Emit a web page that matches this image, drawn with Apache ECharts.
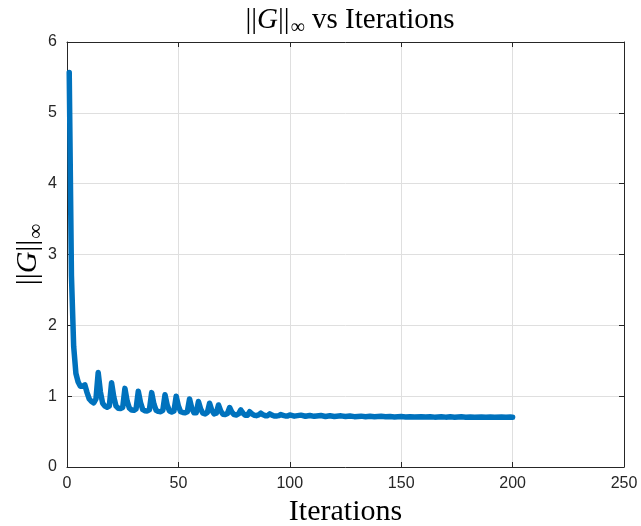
<!DOCTYPE html>
<html>
<head>
<meta charset="utf-8">
<script src="https://cdn.jsdelivr.net/npm/echarts@6/dist/echarts.min.js"></script>
<style>
  html, body { margin: 0; padding: 0; background: #ffffff; }
  #chart { width: 641px; height: 526px; }
</style>
</head>
<body>
<div id="chart"></div>
<script>
// Infinity norm of G per iteration
const iterations = [
  1, 2, 3, 4, 5, 6, 7, 8, 9, 10, 11, 12, 13, 14, 15, 16, 17, 18, 19, 20,
  21, 22, 23, 24, 25, 26, 27, 28, 29, 30, 31, 32, 33, 34, 35, 36, 37, 38, 39, 40,
  41, 42, 43, 44, 45, 46, 47, 48, 49, 50, 51, 52, 53, 54, 55, 56, 57, 58, 59, 60,
  61, 62, 63, 64, 65, 66, 67, 68, 69, 70, 71, 72, 73, 74, 75, 76, 77, 78, 79, 80,
  81, 82, 83, 84, 85, 86, 87, 88, 89, 90, 91, 92, 93, 94, 95, 96, 97, 98, 99, 100,
  102, 105, 107, 109, 111, 114, 116, 118, 120, 123, 125, 127, 129, 132, 134, 136, 138,
  141, 143, 145, 147, 150, 152, 154, 156, 159, 161, 163, 165, 168, 170, 172, 174,
  177, 179, 181, 183, 186, 188, 190, 192, 195, 197, 199, 200
];
const gInfNorm = [
  5.57, 2.7, 1.7, 1.32, 1.2, 1.14, 1.14, 1.16, 1.05, 0.96, 0.925, 0.905, 0.96, 1.335, 1.06, 0.9, 0.86, 0.845, 0.86, 1.19,
  0.99, 0.86, 0.83, 0.825, 0.84, 1.11, 0.93, 0.83, 0.805, 0.8, 0.82, 1.07, 0.91, 0.81, 0.795, 0.79, 0.81, 1.05, 0.89, 0.8,
  0.785, 0.78, 0.8, 1.02, 0.87, 0.79, 0.775, 0.79, 1.0, 0.86, 0.78, 0.77, 0.765, 0.78, 0.96, 0.83, 0.765, 0.765, 0.925, 0.82,
  0.76, 0.75, 0.77, 0.9, 0.8, 0.75, 0.76, 0.875, 0.79, 0.745, 0.74, 0.755, 0.84, 0.775, 0.74, 0.735, 0.75, 0.805, 0.76, 0.73,
  0.73, 0.78, 0.75, 0.73, 0.725, 0.735, 0.76, 0.738, 0.725, 0.725, 0.75, 0.732, 0.72, 0.72, 0.725, 0.74, 0.73, 0.72, 0.72, 0.735,
  0.718, 0.732, 0.716, 0.728, 0.715, 0.726, 0.714, 0.724, 0.713, 0.722, 0.712, 0.72, 0.711, 0.718, 0.71, 0.716, 0.709,
  0.715, 0.708, 0.713, 0.707, 0.712, 0.706, 0.711, 0.705, 0.71, 0.705, 0.709, 0.704, 0.709, 0.704, 0.708, 0.703,
  0.708, 0.703, 0.707, 0.702, 0.707, 0.702, 0.706, 0.702, 0.706, 0.701, 0.705, 0.703
];
const xTicks = { min: 0, max: 250, step: 50 };
const yTicks = { min: 0, max: 6, step: 1 };

const serif = '"Liberation Serif", "DejaVu Serif", serif';
const sans = '"Liberation Sans", Arial, sans-serif';
const ink = '#262626';
const gridGray = '#dfdfdf';

const chart = echarts.init(document.getElementById('chart'), null, { renderer: 'canvas' });

function axisBase(extra) {
  return Object.assign({
    type: 'value',
    axisLine: { show: true, onZero: false, lineStyle: { color: ink, width: 1 } },
    axisTick: { show: true, inside: true, length: 5, lineStyle: { color: ink, width: 1 } },
    splitLine: { show: false },
    axisLabel: { show: false }
  }, extra);
}

function normRich(size, subSize, subDrop) {
  const base = { fontFamily: serif, fontSize: size, fontWeight: 'normal', color: '#000' };
  return {
    bar: Object.assign({}, base),
    g: Object.assign({}, base, { fontStyle: 'italic' }),
    sub: Object.assign({}, base, { fontSize: subSize, verticalAlign: 'top', padding: [subDrop, 0, 0, 1] }),
    txt: Object.assign({}, base)
  };
}

chart.setOption({
  animation: false,
  backgroundColor: '#ffffff',
  title: {
    text: '{bar|||}{g|G}{bar|||}{sub|∞}{txt| vs Iterations}',
    left: 345,
    top: -3,
    textAlign: 'center',
    textStyle: { fontWeight: 'normal', rich: normRich(29, 20, 16) }
  },
  grid: { left: 67, right: 17, top: 42, bottom: 59, containLabel: false, outerBoundsMode: 'none' },
  xAxis: [
    axisBase({
      position: 'bottom', min: xTicks.min, max: xTicks.max, interval: xTicks.step,
      splitLine: { show: true, lineStyle: { color: gridGray, width: 1 } },
      axisLabel: { show: true, color: ink, fontFamily: sans, fontSize: 16, margin: 9 },
      name: 'Iterations',
      nameLocation: 'middle',
      nameGap: 30,
      nameTextStyle: { fontFamily: serif, fontSize: 30, color: '#000' }
    }),
    axisBase({ position: 'top', min: xTicks.min, max: xTicks.max, interval: xTicks.step })
  ],
  yAxis: [
    axisBase({
      position: 'left', min: yTicks.min, max: yTicks.max, interval: yTicks.step,
      splitLine: { show: true, lineStyle: { color: gridGray, width: 1 } },
      axisLabel: { show: true, color: ink, fontFamily: sans, fontSize: 16, margin: 10 },
      name: '{bar|||}{g|G}{bar|||}{sub|∞}',
      nameLocation: 'middle',
      nameRotate: 90,
      nameGap: 20,
      nameMoveOverlap: false,
      nameTextStyle: { rich: normRich(30, 21, 17) }
    }),
    axisBase({ position: 'right', min: yTicks.min, max: yTicks.max, interval: yTicks.step })
  ],
  series: [{
    type: 'line',
    xAxisIndex: 0,
    yAxisIndex: 0,
    data: iterations.map((it, i) => [it, gInfNorm[i]]),
    showSymbol: false,
    smooth: false,
    lineStyle: { color: '#0072BD', width: 5.5, join: 'round', cap: 'round' }
  }]
});
</script>
</body>
</html>
